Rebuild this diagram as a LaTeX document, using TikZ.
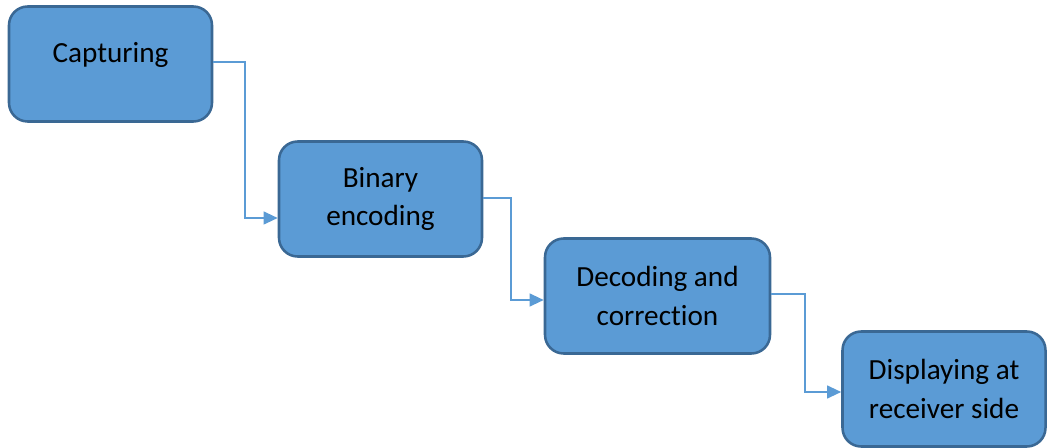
\documentclass[tikz,border=0pt]{standalone}
\usepackage{fontspec}
\setmainfont{Carlito}[Ligatures=NoCommon]
\usetikzlibrary{arrows.meta}
\definecolor{boxfill}{HTML}{5B9BD5}
\definecolor{boxline}{HTML}{3A6894}
\definecolor{flow}{HTML}{5B9BD5}
\tikzset{
  stage/.style={draw=boxline, fill=boxfill, line width=1.9pt, rounded corners=14pt,
    minimum width=#1*0.75pt, minimum height=115*0.75pt, inner sep=0pt,
    align=center, font=\fontsize{21.9}{28.9}\selectfont},
  stage/.default=203,
  flowline/.style={draw=flow, line width=1.5pt,
    -{Triangle[length=10.5pt, width=9.5pt]}},
}
\begin{document}
\begin{tikzpicture}[x=0.75pt, y=-0.75pt]
  \useasboundingbox (0,0) rectangle (1048,448);
  % process stages
  \node[stage, text depth=18pt] (cap) at (110.5,64) {Capturing};
  \node[stage] (bin) at (380.5,199) {Binary\\encoding};
  \node[stage=225] (dec) at (657.5,296) {Decoding and\\correction};
  \node[stage] (disp) at (944,389) {Displaying at\\receiver side};
  % elbow connectors between stages
  \draw[flowline] (cap.east |- 0,62) -| (245,140) |- (bin.west |- 0,218);
  \draw[flowline] (bin.east |- 0,198) -| (511,250) |- (dec.west |- 0,300);
  \draw[flowline] (dec.east |- 0,294) -| (805,340) |- (disp.west |- 0,392);
\end{tikzpicture}
\end{document}
